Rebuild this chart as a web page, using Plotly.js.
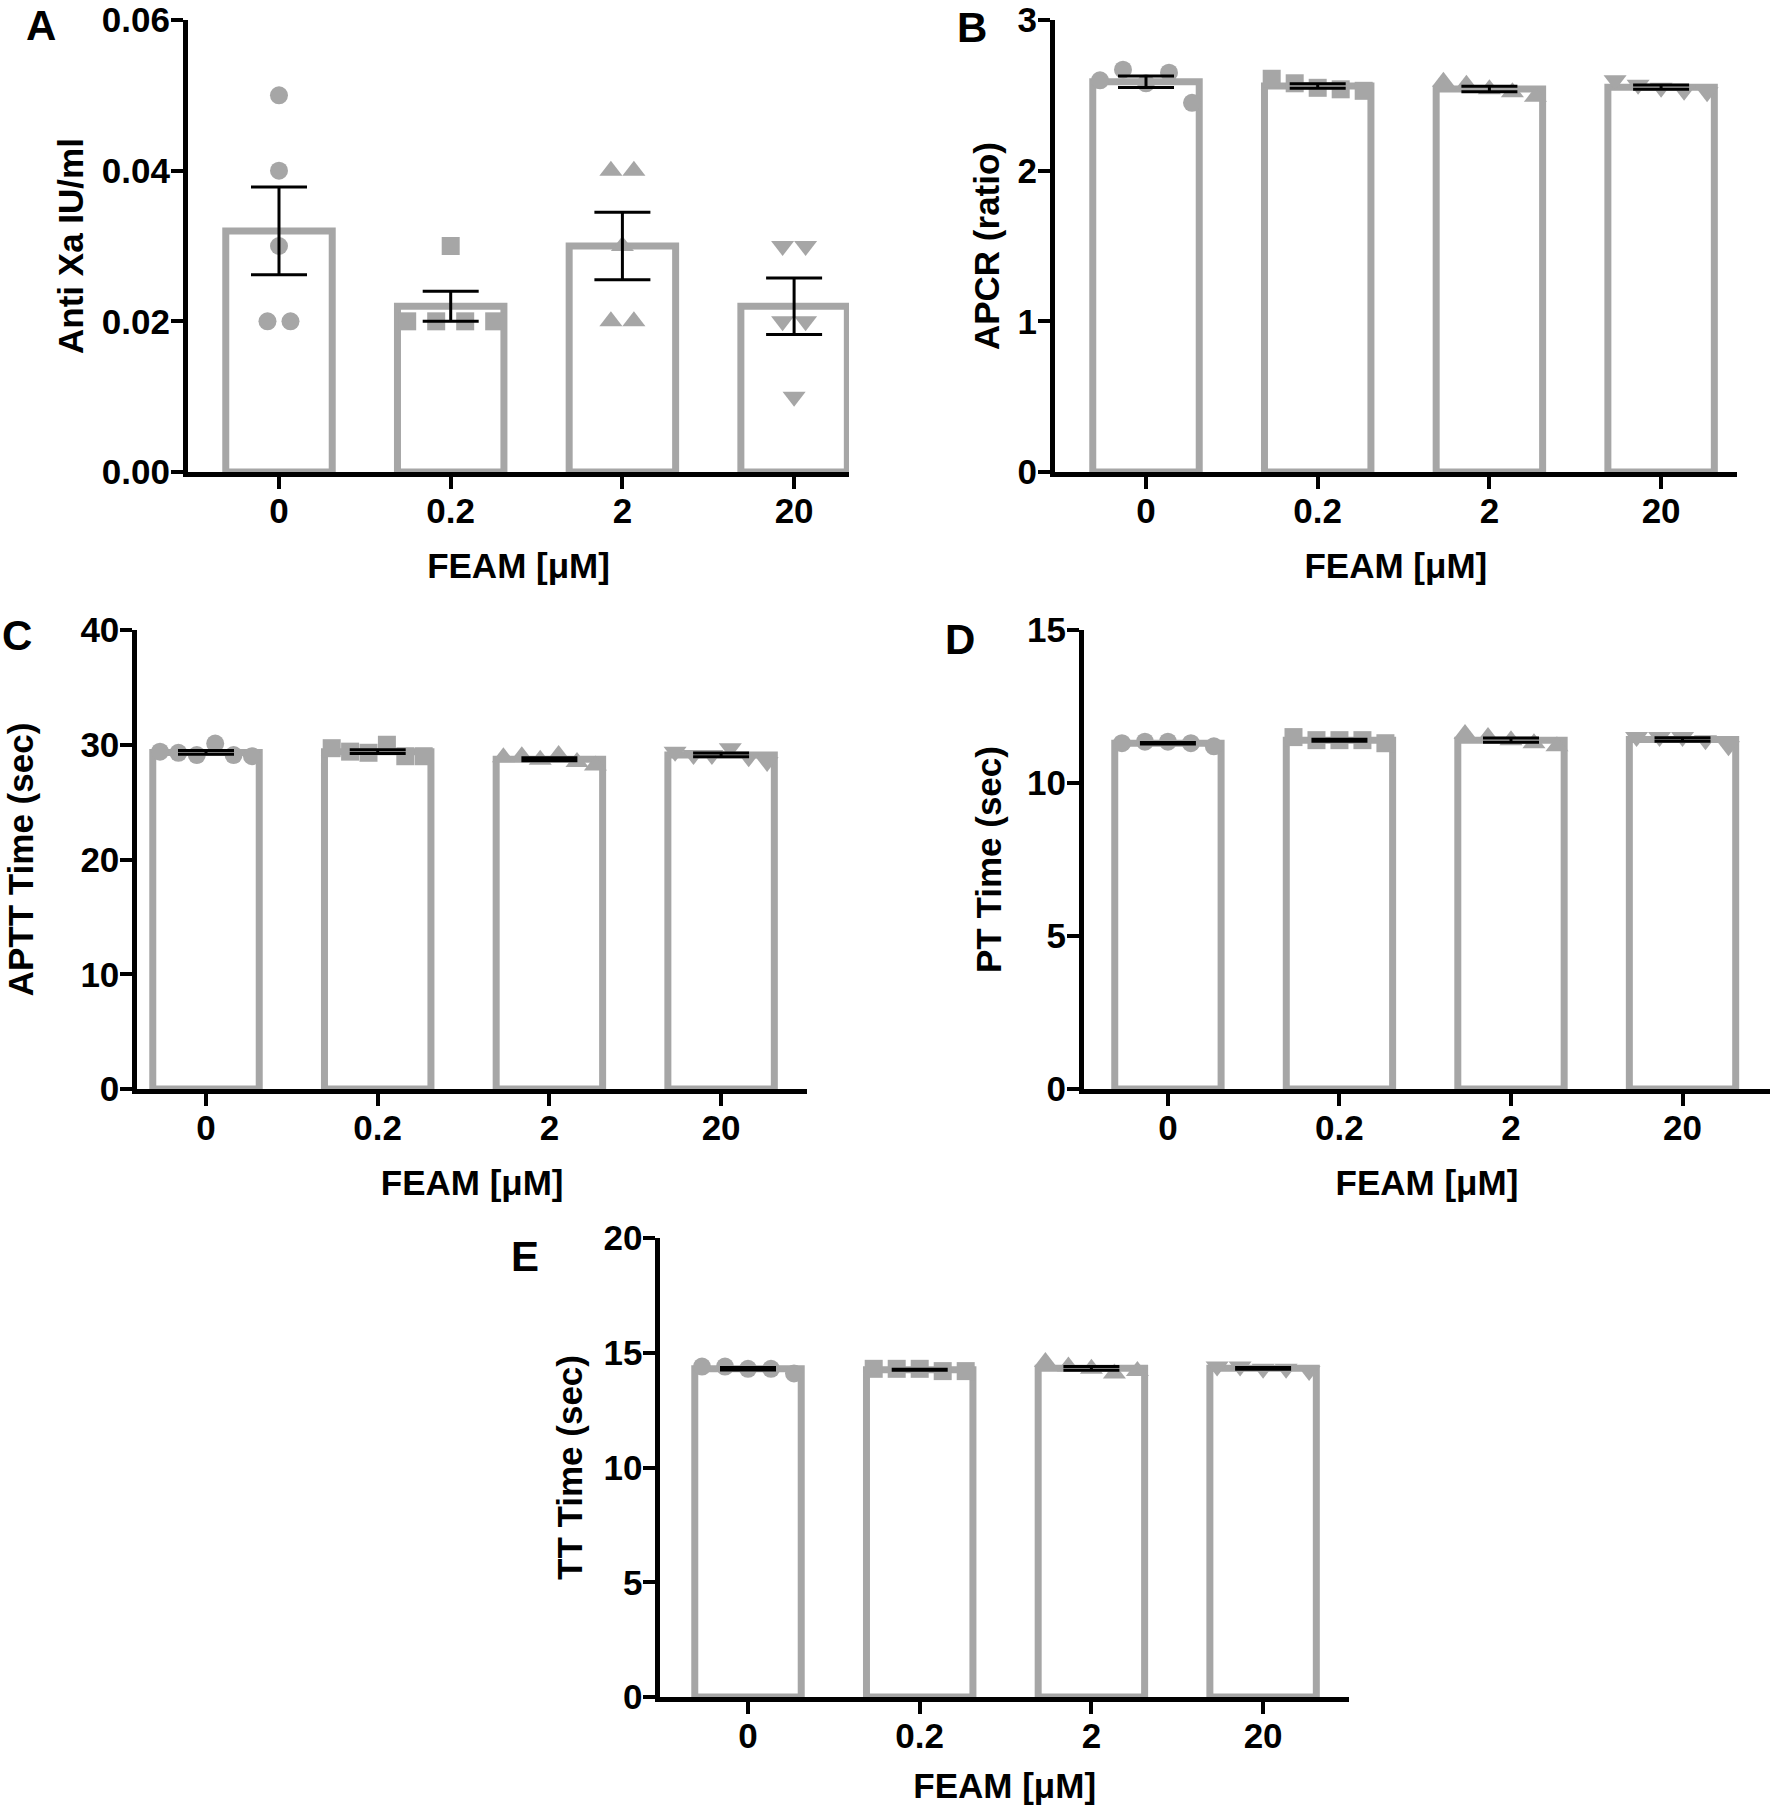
<!DOCTYPE html>
<html>
<head>
<meta charset="utf-8">
<script src="https://cdn.plot.ly/plotly-3.0.1.min.js"></script>
<style>
html, body { margin: 0; padding: 0; background: #ffffff; }
#chart { width: 1770px; height: 1810px; }
</style>
</head>
<body>
<div id="chart"></div>
<script>
// ---------------- DATA ----------------
const categories = ['0', '0.2', '2', '20'];
const xAxisTitle = 'FEAM [\u03bcM]';
const panelLetters = ['A', 'B', 'C', 'D', 'E'];
const yTitles = ['Anti Xa IU/ml', 'APCR (ratio)', 'APTT Time (sec)', 'PT Time (sec)', 'TT Time (sec)'];

// individual replicate values per FEAM concentration (0, 0.2, 2, 20 uM)
const antiXa = [
  [0.05, 0.04, 0.03, 0.02, 0.02],
  [0.03, 0.02, 0.02, 0.02, 0.02],
  [0.04, 0.04, 0.03, 0.02, 0.02],
  [0.03, 0.03, 0.02, 0.02, 0.01]
];
const apcr = [
  [2.60, 2.67, 2.58, 2.65, 2.45],
  [2.61, 2.58, 2.55, 2.54, 2.53],
  [2.59, 2.57, 2.54, 2.52, 2.49],
  [2.60, 2.57, 2.55, 2.53, 2.52]
];
const aptt = [
  [29.4, 29.3, 29.1, 30.1, 29.1, 29.0],
  [29.7, 29.4, 29.3, 30.0, 29.0, 29.0],
  [28.9, 29.0, 28.7, 29.1, 28.5, 28.2],
  [29.4, 29.1, 29.1, 29.7, 28.9, 28.5]
];
const pt = [
  [11.30, 11.35, 11.35, 11.30, 11.20],
  [11.5, 11.4, 11.4, 11.4, 11.3],
  [11.6, 11.5, 11.4, 11.3, 11.2],
  [11.5, 11.5, 11.5, 11.4, 11.2]
];
const tt = [
  [14.4, 14.4, 14.3, 14.3, 14.1],
  [14.3, 14.3, 14.3, 14.2, 14.2],
  [14.6, 14.4, 14.3, 14.1, 14.2],
  [14.4, 14.4, 14.3, 14.3, 14.2]
];
const yTickValues = [
  [0, 0.02, 0.04, 0.06],
  [0, 1, 2, 3],
  [0, 10, 20, 30, 40],
  [0, 5, 10, 15],
  [0, 5, 10, 15, 20]
];
const yTickDecimals = [2, 0, 0, 0, 0];

// ---------------- STYLE / LAYOUT ----------------
const W = 1770, H = 1810;
const FONT = 'Liberation Sans, Arial, Helvetica, sans-serif';
const GREY = '#a6a6a6';
const symbols = ['circle', 'square', 'triangle-up', 'triangle-down'];
const symbolSizes = [18, 18, 20, 20];
const PX_PER_CAT = 171.7;

// panel frames in pixels
const frames = [
  { t0: 279,  top: 20,   bottom: 472,  xr: [-0.53, 3.32], ytStand: 9,  xtStand: 26, letter: [41, 0] },
  { t0: 1146, top: 20,   bottom: 472,  xr: [-0.53, 3.44], ytStand: 9,  xtStand: 26, letter: [972, 2] },
  { t0: 206,  top: 630,  bottom: 1089, xr: [-0.40, 3.50], ytStand: 38, xtStand: 26, letter: [17, 610] },
  { t0: 1168, top: 630,  bottom: 1089, xr: [-0.49, 3.51], ytStand: 16, xtStand: 26, letter: [960, 614] },
  { t0: 748,  top: 1238, bottom: 1697, xr: [-0.51, 3.50], ytStand: 12, xtStand: 21, letter: [525, 1231] }
];
const datasets = [antiXa, apcr, aptt, pt, tt];

function mean(a) { return a.reduce((s, v) => s + v, 0) / a.length; }
function sem(a) {
  const m = mean(a);
  const v = a.reduce((s, x) => s + (x - m) * (x - m), 0) / (a.length - 1);
  return Math.sqrt(v) / Math.sqrt(a.length);
}

// column-scatter layout: points whose values are close (in pixels) are placed side by side
function spreadOffsets(vals, pxPerY, pxPerX) {
  const idx = vals.map((v, i) => i).sort((a, b) => vals[a] - vals[b] || a - b);
  const clusters = [];
  let cur = [idx[0]];
  for (let k = 1; k < idx.length; k++) {
    if ((vals[idx[k]] - vals[idx[k - 1]]) * pxPerY < 22) cur.push(idx[k]);
    else { clusters.push(cur); cur = [idx[k]]; }
  }
  clusters.push(cur);
  const off = new Array(vals.length).fill(0);
  clusters.forEach(c => {
    c.sort((a, b) => a - b);
    const n = c.length;
    if (n < 2) return;
    const sp = n === 2 ? 23 : Math.min(29, 92 / (n - 1));
    c.forEach((i, k) => { off[i] = ((k - (n - 1) / 2) * sp) / pxPerX; });
  });
  return off;
}

const traces = [];
const layout = {
  width: W, height: H,
  margin: { l: 0, r: 0, t: 0, b: 0 },
  paper_bgcolor: '#ffffff', plot_bgcolor: '#ffffff',
  showlegend: false, hovermode: false,
  font: { family: FONT, color: '#000000', size: 34, weight: 'bold' },
  annotations: []
};

datasets.forEach((data, p) => {
  const f = frames[p];
  const ax = p === 0 ? '' : String(p + 1);
  const xName = 'x' + ax, yName = 'y' + ax;
  const left = f.t0 + f.xr[0] * PX_PER_CAT;
  const right = f.t0 + f.xr[1] * PX_PER_CAT;
  const yMax = yTickValues[p][yTickValues[p].length - 1];
  const pxPerY = (f.bottom - f.top) / yMax;
  const xs = categories.map((c, i) => i);
  const means = data.map(mean);
  const sems = data.map(sem);

  traces.push({
    type: 'bar', x: xs, y: means, xaxis: xName, yaxis: yName,
    width: 0.62,
    marker: { color: '#ffffff', line: { color: GREY, width: 7 } },
    hoverinfo: 'skip'
  });
  data.forEach((vals, g) => {
    const off = spreadOffsets(vals, pxPerY, PX_PER_CAT);
    traces.push({
      type: 'scatter', mode: 'markers', xaxis: xName, yaxis: yName,
      x: vals.map((v, i) => g + off[i]), y: vals,
      marker: { symbol: symbols[g], size: symbolSizes[g], color: GREY, line: { width: 0 } },
      cliponaxis: false, hoverinfo: 'skip'
    });
  });
  traces.push({
    type: 'scatter', mode: 'markers', xaxis: xName, yaxis: yName,
    x: xs, y: means,
    marker: { size: 1, opacity: 0 },
    error_y: { type: 'data', array: sems, visible: true, color: '#000000', thickness: 3, width: 28 },
    hoverinfo: 'skip'
  });

  const tickFont = { family: FONT, size: 35, color: '#000000', weight: 'bold' };
  const titleFont = { family: FONT, size: 35, color: '#000000', weight: 'bold' };
  layout['xaxis' + ax] = {
    domain: [left / W, right / W], anchor: yName,
    range: f.xr, tickmode: 'array', tickvals: xs, ticktext: categories,
    showline: true, linewidth: 5, linecolor: '#000000',
    ticks: 'outside', ticklen: 12, tickwidth: 4, tickcolor: '#000000',
    showgrid: false, zeroline: false, tickfont: tickFont,
    ticklabelstandoff: -8, ticklabeloverflow: 'allow',
    title: { text: xAxisTitle, font: titleFont, standoff: f.xtStand },
    fixedrange: true
  };
  layout['yaxis' + ax] = {
    domain: [1 - f.bottom / H, 1 - f.top / H], anchor: xName,
    range: [0, yMax], tickmode: 'array', tickvals: yTickValues[p],
    ticktext: yTickValues[p].map(v => v.toFixed(yTickDecimals[p])),
    showline: true, linewidth: 5, linecolor: '#000000',
    ticks: 'outside', ticklen: 12, tickwidth: 4, tickcolor: '#000000',
    showgrid: false, zeroline: false, tickfont: tickFont,
    ticklabelstandoff: -6, ticklabeloverflow: 'allow',
    title: { text: yTitles[p], font: titleFont, standoff: f.ytStand },
    fixedrange: true
  };
  layout.annotations.push({
    text: panelLetters[p], xref: 'paper', yref: 'paper',
    x: f.letter[0] / W, y: 1 - f.letter[1] / H, xanchor: 'center', yanchor: 'top',
    showarrow: false, font: { family: FONT, size: 42, color: '#000000', weight: 'bold' }
  });
});

Plotly.newPlot('chart', traces, layout, { staticPlot: true, displayModeBar: false });
</script>
</body>
</html>
